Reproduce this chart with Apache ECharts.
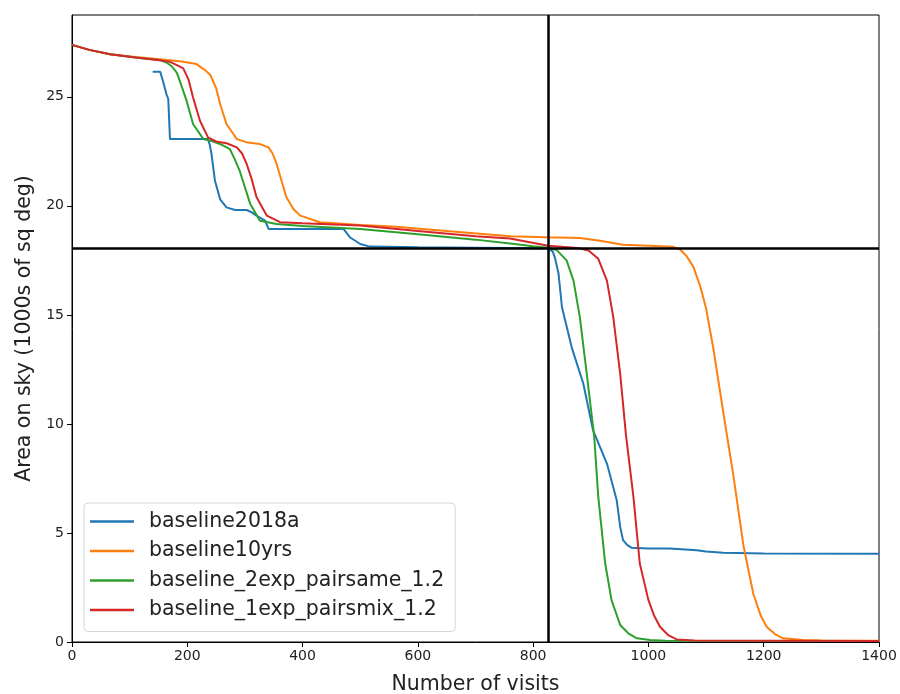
<!DOCTYPE html>
<html>
<head>
<meta charset="utf-8">
<script src="https://cdn.jsdelivr.net/npm/echarts@6/dist/echarts.min.js"></script>
<style>
  html, body { margin: 0; padding: 0; background: #fff; }
  #chart { width: 900px; height: 694px; }
</style>
</head>
<body>
<div id="chart"></div>
<script>
// values
var seriesNames = ['baseline2018a', 'baseline10yrs', 'baseline_2exp_pairsame_1.2', 'baseline_1exp_pairsmix_1.2'];
var colors = ['#1f77b4', '#ff7f0e', '#2ca02c', '#d62728'];

var blueX = [140, 153, 155, 158, 164, 167, 170, 200, 236, 239, 242, 248, 257, 268, 283, 303, 312, 320, 335, 341, 400, 471, 482, 500, 517, 600, 700, 826, 834, 838, 844, 850, 867, 887, 904, 928, 945, 951, 956, 963, 971, 1000, 1037, 1084, 1100, 1130, 1200, 1400];
var blueY = [26.15, 26.15, 26.1, 25.7, 25.1, 24.9, 23.06, 23.06, 23.06, 22.8, 22.37, 21.15, 20.3, 19.93, 19.81, 19.81, 19.7, 19.55, 19.32, 18.94, 18.94, 18.94, 18.56, 18.25, 18.13, 18.1, 18.08, 18.06, 17.9, 17.6, 16.9, 15.35, 13.5, 11.85, 9.7, 8.18, 6.5, 5.28, 4.67, 4.45, 4.32, 4.29, 4.29, 4.21, 4.15, 4.09, 4.06, 4.05];

var orangeX = [0, 30, 66, 110, 153, 190, 216, 232, 240, 250, 257, 268, 286, 305, 326, 341, 348, 355, 364, 372, 384, 396, 430, 500, 557, 650, 760, 823, 881, 916, 956, 1000, 1043, 1055, 1066, 1078, 1090, 1100, 1113, 1130, 1147, 1165, 1182, 1195, 1205, 1220, 1234, 1268, 1300, 1400];
var orangeY = [27.38, 27.15, 26.95, 26.82, 26.72, 26.62, 26.5, 26.2, 26.0, 25.4, 24.67, 23.75, 23.06, 22.9, 22.83, 22.68, 22.4, 21.92, 21.1, 20.39, 19.85, 19.55, 19.25, 19.12, 19.05, 18.85, 18.6, 18.56, 18.53, 18.4, 18.22, 18.17, 18.12, 18.0, 17.7, 17.2, 16.3, 15.3, 13.4, 10.5, 7.7, 4.4, 2.2, 1.2, 0.7, 0.35, 0.17, 0.09, 0.07, 0.06];

var greenX = [0, 30, 66, 110, 153, 164, 173, 182, 190, 199, 210, 228, 245, 260, 274, 282, 291, 300, 309, 326, 355, 400, 500, 600, 700, 760, 800, 826, 841, 858, 870, 881, 893, 906, 913, 925, 936, 951, 965, 980, 1003, 1030, 1400];
var greenY = [27.38, 27.15, 26.95, 26.8, 26.68, 26.57, 26.4, 26.1, 25.5, 24.8, 23.75, 23.06, 22.95, 22.8, 22.6, 22.15, 21.6, 20.85, 20.1, 19.32, 19.17, 19.08, 18.94, 18.7, 18.45, 18.27, 18.15, 18.08, 17.97, 17.5, 16.57, 14.9, 12.3, 9.4, 6.65, 3.6, 1.92, 0.78, 0.4, 0.17, 0.09, 0.06, 0.05];

var redX = [0, 30, 66, 110, 153, 170, 182, 193, 202, 210, 222, 236, 250, 268, 286, 295, 303, 312, 320, 338, 361, 400, 500, 600, 700, 760, 826, 860, 880, 896, 913, 928, 939, 951, 961, 974, 985, 1000, 1010, 1020, 1035, 1049, 1080, 1400];
var redY = [27.38, 27.15, 26.95, 26.8, 26.68, 26.6, 26.45, 26.3, 25.8, 24.97, 23.9, 23.14, 22.95, 22.87, 22.68, 22.4, 21.92, 21.2, 20.4, 19.55, 19.25, 19.2, 19.1, 18.85, 18.6, 18.5, 18.17, 18.1, 18.05, 17.95, 17.57, 16.57, 14.9, 12.3, 9.5, 6.65, 3.6, 1.92, 1.2, 0.7, 0.3, 0.12, 0.07, 0.05];

var xTicks = [0, 200, 400, 600, 800, 1000, 1200, 1400];
var yTicks = [0, 5, 10, 15, 20, 25];
var visitsCut = 826;
var areaCut = 18.06;

function zip(xs, ys) {
  return xs.map(function (x, i) { return [x, ys[i]]; });
}

var allX = [blueX, orangeX, greenX, redX];
var allY = [blueY, orangeY, greenY, redY];

var chart = echarts.init(document.getElementById('chart'));
var font = 'DejaVu Sans';

var series = seriesNames.map(function (name, i) {
  var s = {
    name: name,
    type: 'line',
    data: zip(allX[i], allY[i]),
    showSymbol: false,
    symbol: 'none',
    lineStyle: { color: colors[i], width: 2 },
    itemStyle: { color: colors[i] },
    emphasis: { disabled: true },
    animation: false
  };
  // the two black cut lines
  if (i === 3) {
    s.markLine = {
      silent: true,
      symbol: 'none',
      label: { show: false },
      lineStyle: { color: '#000', width: 2.5, type: 'solid' },
      data: [{ xAxis: visitsCut }, { yAxis: areaCut }]
    };
  }
  return s;
});

chart.setOption({
  animation: false,
  grid: {
    left: 72, right: 21, top: 15, bottom: 52,
    outerBoundsMode: 'none',
    containLabel: false,
    show: true, borderColor: '#000', borderWidth: 1
  },
  legend: {
    orient: 'vertical',
    left: 84, top: 503,
    data: seriesNames,
    icon: 'rect',
    itemWidth: 44, itemHeight: 2.5,
    itemGap: 8.5,
    padding: [8, 11, 11, 6],
    borderColor: '#d6d6d6', borderWidth: 1, borderRadius: 4,
    backgroundColor: 'rgba(255,255,255,0.9)',
    textStyle: { fontFamily: font, fontSize: 20.5, color: '#222', padding: [0, 0, 0, 10] }
  },
  xAxis: {
    type: 'value',
    min: 0, max: 1400, interval: 200,
    name: 'Number of visits',
    nameLocation: 'middle',
    nameGap: 32,
    nameTextStyle: { fontFamily: font, fontSize: 20.5, color: '#222' },
    axisLine: { show: true, lineStyle: { color: '#000', width: 1 } },
    axisTick: { show: true, inside: false, length: 5, lineStyle: { color: '#000' } },
    axisLabel: { fontFamily: font, fontSize: 14, color: '#222', margin: 7,
      customValues: xTicks,
      formatter: function (v) { return String(v); } },
    splitLine: { show: false }
  },
  yAxis: {
    type: 'value',
    min: 0, max: 28.75,
    name: 'Area on sky (1000s of sq deg)',
    nameLocation: 'middle',
    nameGap: 34,
    nameTextStyle: { fontFamily: font, fontSize: 20.5, color: '#222' },
    axisLine: { show: true, lineStyle: { color: '#000', width: 1 } },
    axisTick: { show: true, inside: false, length: 5, lineStyle: { color: '#000' },
      customValues: yTicks },
    axisLabel: { fontFamily: font, fontSize: 14, color: '#222', margin: 8,
      customValues: yTicks,
      formatter: function (v) { return String(v); } },
    splitLine: { show: false }
  },
  series: series
});
</script>
</body>
</html>
